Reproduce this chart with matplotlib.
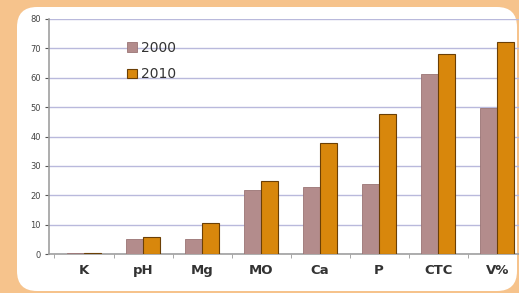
import numpy as np
import matplotlib.pyplot as plt
from matplotlib.patches import FancyBboxPatch

categories = ['K', 'pH', 'Mg', 'MO', 'Ca', 'P', 'CTC', 'V%']
values_2000 = [0.3, 5.2, 5.2, 21.8, 22.8, 24.0, 61.2, 49.6]
values_2010 = [0.4, 5.7, 10.5, 24.8, 37.7, 47.8, 68.2, 72.2]
series_labels = ['2000', '2010']

W, H = 519, 293
fig = plt.figure(figsize=(W / 100, H / 100), dpi=100)
fig.patch.set_facecolor('#F6C38C')

# white rounded panel (in pixel units via an invisible background axes)
bg = fig.add_axes([0, 0, 1, 1], zorder=-1)
bg.set_xlim(0, W)
bg.set_ylim(H, 0)
bg.axis('off')
bg.add_patch(FancyBboxPatch((17, 7), 500, 284, boxstyle='round,pad=0,rounding_size=20',
                            facecolor='white', edgecolor='none'))

ax = fig.add_axes([49 / W, 1 - 254 / H, 484 / W, 235 / H])
ax.set_facecolor('none')

x = np.arange(len(categories))
w = 0.29
ax.bar(x - w / 2, values_2000, w, color='#B38C8C', edgecolor='#9A7474', linewidth=0.6,
       label=series_labels[0], zorder=3)
ax.bar(x + w / 2, values_2010, w, color='#D8870C', edgecolor='#6B3F05', linewidth=0.8,
       label=series_labels[1], zorder=3)

ax.set_xlim(-0.593, len(categories) - 0.393)
ax.set_ylim(0, 80)
ax.set_yticks(np.arange(0, 81, 10))
ax.yaxis.grid(True, color='#B9B9DC', linewidth=1.0, zorder=0)
ax.set_axisbelow(True)

ax.set_xticks(x)
ax.set_xticklabels(categories, fontsize=9.5, fontweight='bold', color='#333333')
ax.set_xticks(np.arange(-0.5, len(categories), 1), minor=True)
ax.tick_params(axis='x', which='major', length=0, pad=7)
ax.tick_params(axis='x', which='minor', length=3, color='#999999')
ax.tick_params(axis='y', labelsize=6, colors='#555555', length=3, pad=3)
for lbl in ax.get_yticklabels():
    lbl.set_color('#444444')

for s in ['top', 'right']:
    ax.spines[s].set_visible(False)
ax.spines['left'].set_color('#A0A0A0')
ax.spines['bottom'].set_color('#A0A0A0')
ax.spines['left'].set_linewidth(1.2)
ax.spines['bottom'].set_linewidth(1.2)

leg = ax.legend(loc='upper left', bbox_to_anchor=(0.135, 0.96), frameon=False,
                fontsize=10, handlelength=0.7, handleheight=0.7, handletextpad=0.3,
                labelspacing=0.9)
for t in leg.get_texts():
    t.set_color('#333333')

fig.savefig('out.png', dpi=100, facecolor=fig.get_facecolor())
